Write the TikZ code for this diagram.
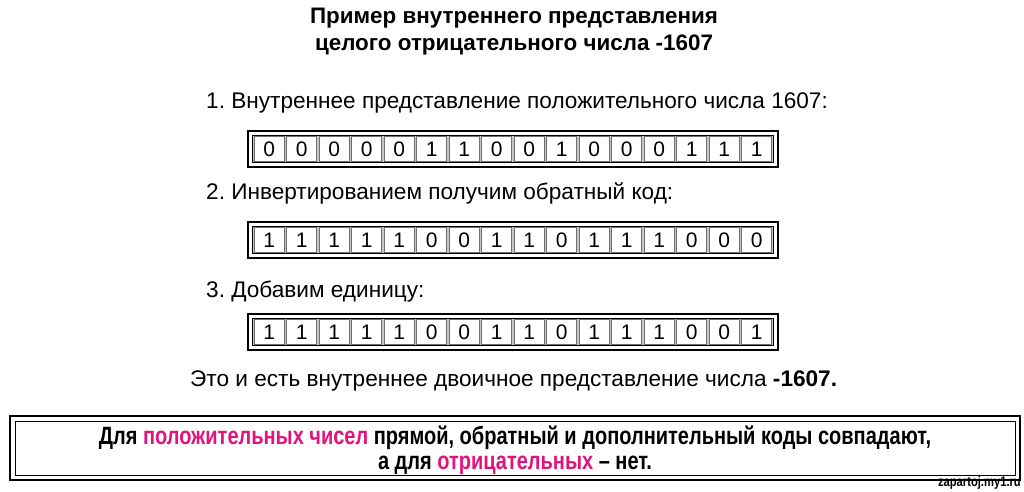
\documentclass[tikz,border=0pt]{standalone}
\usepackage{fontspec}
\setmainfont{Liberation Sans}
\newfontfamily\narrowfont[FakeStretch=0.8]{Liberation Sans}
\usetikzlibrary{positioning}
\definecolor{hlPink}{RGB}{225, 20, 125}
\definecolor{cellGray}{RGB}{110, 110, 110}
\frenchspacing

\begin{document}
\begin{tikzpicture}[x=1pt, y=-1pt,
        title/.style={align=center, font=\fontsize{22.4}{27}\selectfont\bfseries},
        steptext/.style={anchor=west, inner sep=0pt, font=\fontsize{22.6}{26}\selectfont},
        bitcell/.style={rectangle, draw=cellGray, line width=0.8pt, fill=white, minimum width=30pt, minimum height=25pt, inner sep=0pt, font=\fontsize{21}{21}\selectfont},
        outerframe/.style={draw=black, line width=2.6pt},
        innerframe/.style={draw=black, line width=0.9pt},
        notetext/.style={align=center, font=\fontsize{25}{25}\selectfont\narrowfont\bfseries},
    ]
        \useasboundingbox (0,0) rectangle (1024,491);

        % Title
        \node[title] (head) at (514,32) {Пример внутреннего представления\\целого отрицательного числа -1607};

        % Steps
        \node[steptext] (step1) at (206,103) {1. Внутреннее представление положительного числа 1607:};
        \node[steptext] (step2) at (206,193) {2. Инвертированием получим обратный код:};
        \node[steptext] (step3) at (206,292) {3. Добавим единицу:};

        % Bit rows
        \foreach \r/\y/\bits in {1/131/{0,0,0,0,0,1,1,0,0,1,0,0,0,1,1,1},
                                 2/222/{1,1,1,1,1,0,0,1,1,0,1,1,1,0,0,0},
                                 3/314/{1,1,1,1,1,0,0,1,1,0,1,1,1,0,0,1}} {
            \draw[outerframe] (248,\y) rectangle (778,\y+36);
            \draw[innerframe, fill=gray!45] (252.5,\y+4.5) rectangle (773.5,\y+31.5);
            \foreach \b [count=\i] in \bits {
                \node[bitcell] (bit\r-\i) at (253+32.5*\i-16.25,\y+18) {\b};
            }
        }

        % Result
        \node[steptext] (result) at (190,381) {Это и есть внутреннее двоичное представление числа \textbf{-1607.}};

        % Note box
        \draw[outerframe] (10,416) rectangle (1020,480);
        \draw[innerframe] (15,421) rectangle (1015,475);
        \node[notetext] (note) at (515,450) {Для \textcolor{hlPink}{положительных чисел} прямой, обратный и дополнительный коды совпадают,\\а для \textcolor{hlPink}{отрицательных} – нет.};

        \node[anchor=south east, inner sep=1pt, font=\fontsize{14}{14}\selectfont\narrowfont\bfseries] (site) at (1022,491) {zapartoj.my1.ru};
    \end{tikzpicture}
\end{document}
